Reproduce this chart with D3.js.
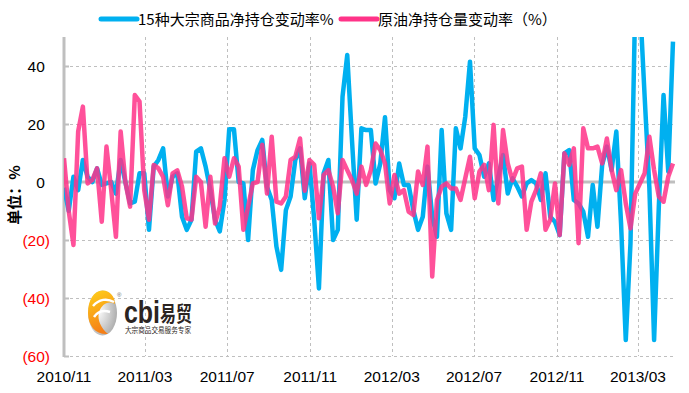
<!DOCTYPE html>
<html>
<head>
<meta charset="utf-8">
<script src="https://cdn.jsdelivr.net/npm/d3@7"></script>
<style>
  body { margin: 0; background: #fff; }
  svg { display: block; }
</style>
</head>
<body>
<div id="chart"></div>
<script>
var width = 689,
    height = 393,
    plotLeft = 64,
    plotRight = 675,
    plotTop = 37,
    plotBottom = 356;

// weekly series, first week 2010-11-01
var startDate = '2010-11-01';

var seriesNames = ['15种大宗商品净持仓变动率%', '原油净持仓量变动率（%）'];

var commodity15 = [
  -2, -10, 1.8, -2.8, 7.6, 1.8, 0, 4.7, -1, -0.5,
  0, -4, 7.6, 0, -7.4, -6.8, 3, 3, -16.5, 5.3,
  7.6, 11.6, -5, 1.8, 3, -12, -16.5, -13, 10.5, 11.6,
  5.3, -2.8, -13, -17, -6.2, 18.2, 18.2, 0, -0.5, -20,
  4.1, 11, 14.5, -1.6, -6.2, -22.3, -30.3, -9.7, -5, 7.6,
  11.6, -5.6, 6.4, -13, -36.7, 3, 7.6, -20, -16.5, 29.4,
  43.8, 14.5, -13, 18.5, 17.9, 17.9, -0.5, 6.4, 22.3, -2.8,
  -5.6, 6.4, -1, -1, -9.7, -16.5, -12, 5.3, -12, -18.9,
  17.9, -10.8, -16.5, 18.5, 11.6, 22.5, 41.5, 11.6, 9.3, 1.8,
  6.4, -6.2, 1.8, 9.3, -4, 1.3, -1.6, -5, -0.5, 0.7,
  -0.5, -6.2, 3, -12, -13.7, -18.3, 9.9, 11, -6.2, -7.4,
  -10.2, -18.9, -1, -15.4, 5.9, 12.2, 4.1, 17.4, -14.3, -54.5,
  -21.1, 62, 62, 29.4, -2, -54.5, -8.5, 30, 3.6, 48.4
];

var crudeOil = [
  8.2, -10, -21.7, 17.4, 26, -0.5, 0.7, 4.7, -13.7, 12.2,
  -2.8, -18.9, 17.4, 0, -8.5, 30, 27.7, -2.8, -13, 5.9,
  4.7, 1.8, -8, 3, 4, -1.6, -12.5, -13, 1.8, 0,
  -15.4, 1.8, -14.3, -8.5, 8.2, 1.8, 8.2, 5.3, -16.5, -8.5,
  -0.5, 0, 12.8, -4, 15.6, -6.8, -7.4, -5, 7.6, 8.7,
  15, -3, 7.6, 5.9, -12.5, 2.4, 4.1, -1.6, -10.8, 7.6,
  4.1, 0.7, -4, 5.3, -1, 4.1, 13.3, 11, 6.4, -7.4,
  2.4, -4, -2.8, -10.2, -11.4, 3.6, -1, 12.2, -32.6, -6.2,
  -1.6, -0.5, -2.2, -2.2, -6.2, 1.3, 8.7, -5.6, 3.6, 5.9,
  -2.8, 19.7, -7.4, 17.9, 6.4, 0.5, 4.7, 5.3, -16.5, -6.8,
  -2.8, 3, -16.5, -13, -0.5, -18.3, 9.9, 5.9, 11.6, -21.1,
  18.5, 11.6, 11.6, 12.2, 6.4, 15, 4.1, -2.8, 4.1, -7.4,
  -16, -4, -0.5, 3, 15.6, 4.1, -5, -6.8, 1.8, 6.4
];

var yTicks = [-60, -40, -20, 0, 20, 40];
var xTickMonths = 4;

var colours = ['#00b0f0', '#ff3388'];

var parse = d3.timeParse('%Y-%m-%d');
var dates = commodity15.map(function(d, i) {
  return d3.timeDay.offset(parse(startDate), i * 7);
});

var x = d3.scaleTime()
    .domain([dates[0], d3.timeDay.offset(dates[dates.length - 1], 3)])
    .range([plotLeft, plotRight]);

var y = d3.scaleLinear()
    .domain([-60, 50])
    .range([plotBottom, plotTop]);

var svg = d3.select('#chart').append('svg')
    .attr('width', width)
    .attr('height', height);

var defs = svg.append('defs');
var grey = '#bfbfbf';

// month ticks every 4 months from the first date
var xTicks = d3.timeMonth.range(dates[0], x.domain()[1], xTickMonths);

// grid
svg.append('g').selectAll('line')
    .data(xTicks.filter(function(d) { return x(d) > plotLeft + 1; }))
  .enter().append('line')
    .attr('x1', function(d) { return Math.round(x(d)) + 0.5; })
    .attr('x2', function(d) { return Math.round(x(d)) + 0.5; })
    .attr('y1', plotTop)
    .attr('y2', plotBottom)
    .attr('stroke', grey)
    .attr('stroke-dasharray', '3,3');

svg.append('g').selectAll('line')
    .data(yTicks.filter(function(d) { return d !== 0; }))
  .enter().append('line')
    .attr('x1', plotLeft)
    .attr('x2', plotRight)
    .attr('y1', function(d) { return Math.round(y(d)) + 0.5; })
    .attr('y2', function(d) { return Math.round(y(d)) + 0.5; })
    .attr('stroke', grey)
    .attr('stroke-dasharray', '3,3');

// zero line
svg.append('line')
    .attr('x1', plotLeft)
    .attr('x2', plotRight)
    .attr('y1', y(0))
    .attr('y2', y(0))
    .attr('stroke', grey)
    .attr('stroke-width', 3);

// y axis
var yAxis = d3.axisRight(y)
    .tickValues(yTicks)
    .tickSize(5)
    .tickFormat('');

var yg = svg.append('g')
    .attr('transform', 'translate(' + plotLeft + ',0)')
    .call(yAxis);
yg.select('.domain').remove();
yg.selectAll('.tick line').attr('stroke', grey).attr('stroke-width', 2);

svg.append('line')
    .attr('x1', plotLeft)
    .attr('x2', plotLeft)
    .attr('y1', plotTop)
    .attr('y2', plotBottom + 1)
    .attr('stroke', grey)
    .attr('stroke-width', 3);

// y labels, negatives in brackets and red
svg.append('g').selectAll('text')
    .data(yTicks)
  .enter().append('text')
    .attr('x', 50)
    .attr('y', function(d) { return y(d) + 5.5; })
    .attr('text-anchor', 'end')
    .attr('font-family', 'Arial, "Liberation Sans", sans-serif')
    .attr('font-size', 15.5)
    .attr('fill', function(d) { return d < 0 ? '#ff0000' : '#000'; })
    .each(function(d) {
      var t = d3.select(this);
      if (d < 0) {
        t.text('(' + Math.abs(d) + ')');
      } else {
        t.text(d);
        t.append('tspan').attr('fill-opacity', 0).text(')');
      }
    });

// x labels
svg.append('g').selectAll('text')
    .data(xTicks)
  .enter().append('text')
    .attr('x', function(d) { return x(d); })
    .attr('y', 382)
    .attr('text-anchor', 'middle')
    .attr('font-family', 'Arial, "Liberation Sans", sans-serif')
    .attr('font-size', 15.5)
    .attr('fill', '#000')
    .text(d3.timeFormat('%Y/%m'));

// y title
svg.append('text')
    .attr('transform', 'translate(20,195) rotate(-90)')
    .attr('text-anchor', 'middle')
    .attr('font-family', '"Noto Sans CJK SC", sans-serif')
    .attr('font-weight', 'bold')
    .attr('font-size', 15)
    .text('单位：%');

// logo
var logo = svg.append('g').attr('transform', 'translate(88,290)');

var eggGrad = defs.append('radialGradient').attr('id', 'egg')
    .attr('cx', '35%').attr('cy', '45%').attr('r', '70%');
eggGrad.append('stop').attr('offset', '0%').attr('stop-color', '#ffffff');
eggGrad.append('stop').attr('offset', '100%').attr('stop-color', '#a8a8a8');

var orangeGrad = defs.append('linearGradient').attr('id', 'orange')
    .attr('x1', 0).attr('y1', 0).attr('x2', 0.3).attr('y2', 1);
orangeGrad.append('stop').attr('offset', '0%').attr('stop-color', '#ffd21a');
orangeGrad.append('stop').attr('offset', '100%').attr('stop-color', '#f57f17');

logo.append('ellipse')
    .attr('cx', 14.5).attr('cy', 23).attr('rx', 14.5).attr('ry', 22.5)
    .attr('fill', 'url(#egg)');
logo.append('path')
    .attr('d', 'M14.5,0.5 C23,0.5 27,8 27,14 C20,10 14,14 11,22 C9,30 13,38 20,44 C8,45 0,36 0,23 C0,10 6,0.5 14.5,0.5 Z')
    .attr('fill', 'url(#orange)');
logo.append('path')
    .attr('d', 'M5,16 C11,9 19,8 26,12')
    .attr('fill', 'none').attr('stroke', '#fff').attr('stroke-width', 2.5);
logo.append('path')
    .attr('d', 'M6,27 C10,21 16,20 22,22')
    .attr('fill', 'none').attr('stroke', '#fff').attr('stroke-width', 2.5);

logo.append('text')
    .attr('x', 29).attr('y', 7)
    .attr('font-family', 'Arial, sans-serif')
    .attr('font-size', 6)
    .attr('fill', '#666')
    .text('®');
logo.append('text')
    .attr('x', 36).attr('y', 33)
    .attr('font-family', 'Arial, "Liberation Sans", sans-serif')
    .attr('font-weight', 'bold')
    .attr('font-size', 31)
    .attr('textLength', 36)
    .attr('lengthAdjust', 'spacingAndGlyphs')
    .attr('fill', '#2b2422')
    .text('cbi');
logo.append('text')
    .attr('x', 72).attr('y', 31)
    .attr('font-family', '"Noto Sans CJK SC", sans-serif')
    .attr('font-weight', 'bold')
    .attr('font-size', 21)
    .attr('textLength', 32)
    .attr('lengthAdjust', 'spacingAndGlyphs')
    .attr('fill', '#2b2422')
    .text('易贸');
logo.append('text')
    .attr('x', 37).attr('y', 43)
    .attr('font-family', '"Noto Sans CJK SC", sans-serif')
    .attr('font-size', 7.5)
    .attr('textLength', 66)
    .attr('lengthAdjust', 'spacingAndGlyphs')
    .attr('fill', '#2b2422')
    .text('大宗商品交易服务专家');

// lines
defs.append('clipPath').attr('id', 'plot')
  .append('rect')
    .attr('x', plotLeft)
    .attr('y', plotTop)
    .attr('width', plotRight - plotLeft + 3)
    .attr('height', plotBottom - plotTop);

var line = d3.line()
    .x(function(d, i) { return x(dates[i]); })
    .y(function(d) { return y(d); });

var plot = svg.append('g').attr('clip-path', 'url(#plot)');

plot.append('path')
    .datum(commodity15)
    .attr('d', line)
    .attr('fill', 'none')
    .attr('stroke', colours[0])
    .attr('stroke-width', 4.5)
    .attr('stroke-linejoin', 'round');

plot.append('path')
    .datum(crudeOil)
    .attr('d', line)
    .attr('fill', 'none')
    .attr('stroke', colours[1])
    .attr('stroke-width', 4.5)
    .attr('stroke-opacity', 0.85)
    .attr('stroke-linejoin', 'round');

// legend
var legendX = [101, 341];
var legend = svg.append('g').selectAll('g')
    .data(seriesNames)
  .enter().append('g')
    .attr('transform', function(d, i) { return 'translate(' + legendX[i] + ',19)'; });

legend.append('line')
    .attr('x1', 0)
    .attr('x2', 36)
    .attr('stroke', function(d, i) { return colours[i]; })
    .attr('stroke-width', 5)
    .attr('stroke-linecap', 'round');

legend.append('text')
    .attr('x', 37)
    .attr('y', 5.5)
    .attr('font-family', '"Noto Sans CJK SC", sans-serif')
    .attr('font-size', 15)
    .attr('fill', '#000')
    .text(function(d) { return d; });
</script>
</body>
</html>
